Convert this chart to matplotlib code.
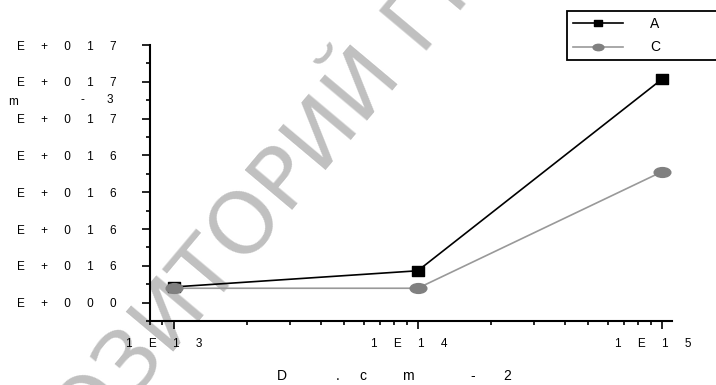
import matplotlib
matplotlib.use('Agg')
import matplotlib.pyplot as plt
from matplotlib.path import Path
from matplotlib.transforms import Affine2D, ScaledTranslation
from matplotlib.ticker import FixedLocator, LogLocator, MultipleLocator, NullFormatter

plt.rcParams['font.family'] = ['Liberation Sans', 'DejaVu Sans']

# data
dose = [1e13, 1e14, 1e15]
conc_a = [8.5e15, 1.73e16, 1.214e17]
conc_c = [7.8e15, 7.8e15, 7.11e16]
series_names = ['A', 'C']

y_ticks = [0, 2e16, 4e16, 6e16, 8e16, 1e17, 1.2e17, 1.4e17]
y_labels = ['E+000', 'E+016', 'E+016', 'E+016', 'E+016', 'E+017', 'E+017', 'E+017']
x_ticks = [1e13, 1e14, 1e15]
x_labels = ['1E13', '1E14', '1E15']


def spaced(s, n=5):
    return (' ' * n).join(s)


W, H = 716, 385
fig = plt.figure(figsize=(W / 100, H / 100), dpi=100)
ax = fig.add_axes([150 / W, (H - 321) / H, (672 - 150) / W, (321 - 45) / H])
ax.patch.set_facecolor('none')


def px(x, y):
    return x / W, (H - y) / H


# watermark
fig.text(*px(-21, 583), 'РЕПОЗИТОРИЙ ГГТУ', rotation=50, rotation_mode='anchor',
         ha='left', va='baseline', fontsize=62, color='#c0c0c0',
         family='DejaVu Sans', zorder=-5)

sq = Path.unit_rectangle().transformed(Affine2D().translate(-0.5, -0.5).scale(1.2, 1))
ell = Path.unit_circle().transformed(Affine2D().scale(1.7, 1))

ax.plot(dose, conc_a, color='black', lw=1.2, marker=sq, ms=8.5,
        label=series_names[0], zorder=3)
ax.plot(dose, conc_c, color='#999999', lw=1.2, marker=ell, ms=12,
        mfc='#808080', mec='#808080', label=series_names[1], zorder=4)

ax.set_xscale('log')
ax.set_xlim(8e12, 1.1e15)
ax.set_ylim(-1e16, 1.4e17)

ax.xaxis.set_major_locator(FixedLocator(x_ticks))
ax.xaxis.set_minor_locator(LogLocator(base=10, subs=range(2, 10)))
ax.xaxis.set_minor_formatter(NullFormatter())
ax.set_xticklabels([spaced(s) for s in x_labels])
ax.yaxis.set_major_locator(FixedLocator(y_ticks))
ax.yaxis.set_minor_locator(MultipleLocator(1e16))
ax.set_yticklabels([spaced(s) for s in y_labels])

for s in ['top', 'right']:
    ax.spines[s].set_visible(False)
for s in ['left', 'bottom']:
    ax.spines[s].set_linewidth(1.5)

ax.tick_params(axis='both', which='major', direction='out', length=5.5, width=1.2,
               labelsize=8.5)
ax.tick_params(axis='both', which='minor', direction='out', length=3, width=1.2)
ax.tick_params(axis='y', which='major', pad=18.5)
ax.tick_params(axis='x', which='major', pad=7)

off = ScaledTranslation(-9 / 100, 0, fig.dpi_scale_trans)
for lab in ax.get_xticklabels():
    lab.set_transform(lab.get_transform() + off)

# axis titles as they appear (partly cut)
for ch, x in zip(['D', '.', 'c', 'm', '-', '2'], [282, 338, 363, 408, 473, 507]):
    fig.text(*px(x, 376), ch, ha='center', va='center', fontsize=10)
for ch, x, y in zip(['m', '-', '3'], [13, 82, 110], [102, 100, 100]):
    fig.text(*px(x, y), ch, ha='center', va='center', fontsize=8.5)

leg = ax.legend(loc='upper left',
                bbox_to_anchor=(567 / W, (H - 15) / H, (740 - 567) / W, 0.01),
                bbox_transform=fig.transFigure, mode='expand', borderaxespad=0,
                fancybox=False, edgecolor='black', framealpha=1, fontsize=10,
                handlelength=3.6, handletextpad=2.0, labelspacing=0.7,
                borderpad=0.4, markerscale=0.65)
leg.get_frame().set_linewidth(1.3)

fig.savefig('out.png', dpi=100)
